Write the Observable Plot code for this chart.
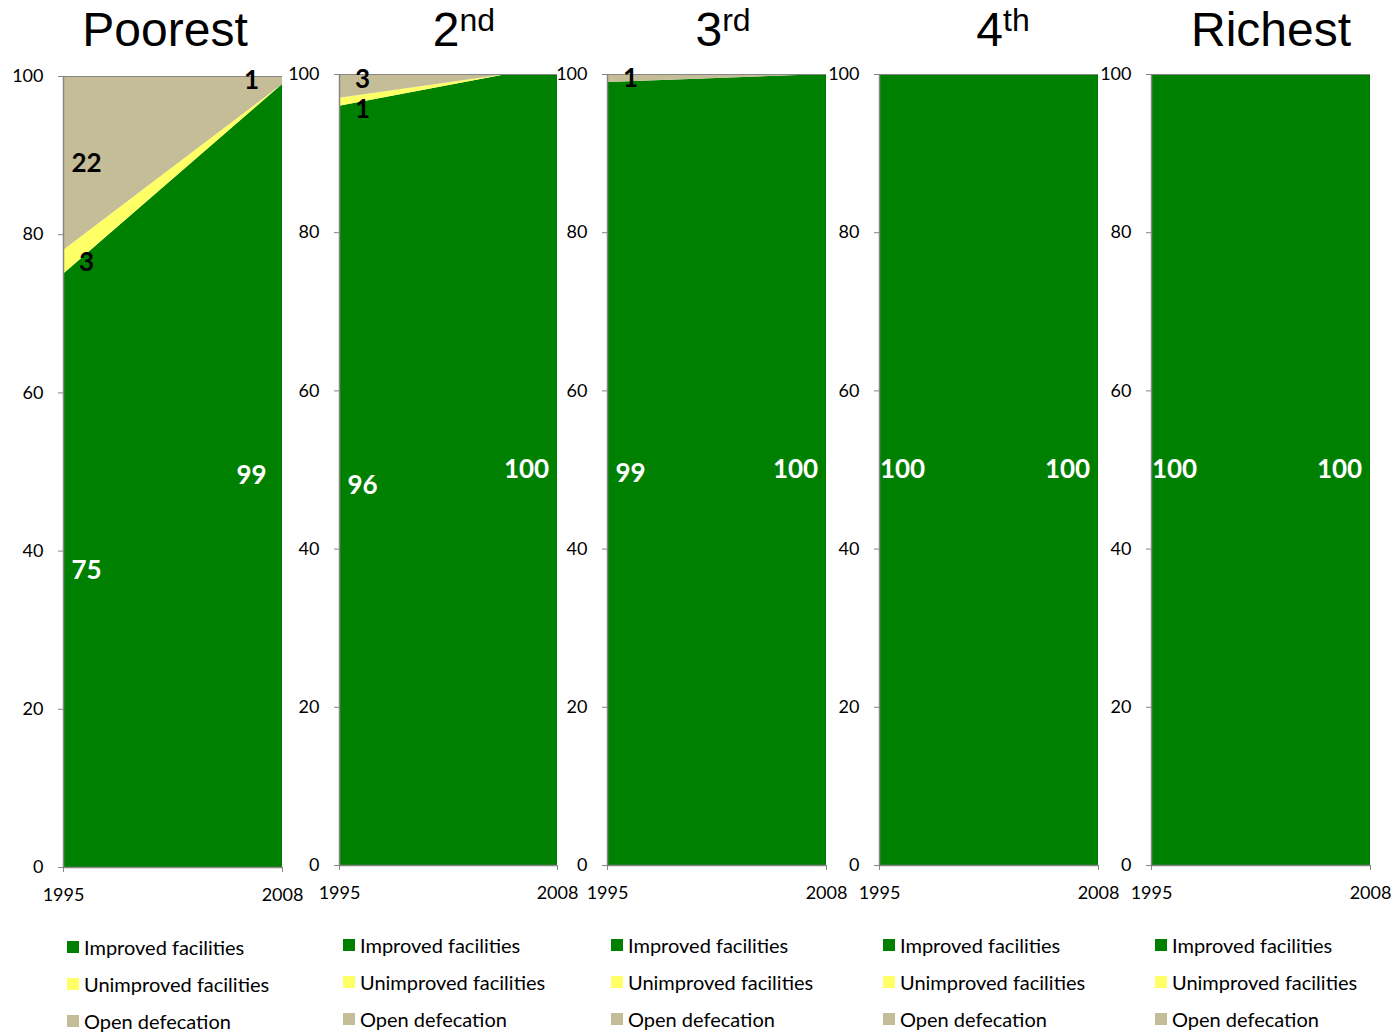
<!DOCTYPE html>
<html>
<head>
<meta charset="utf-8">
<script src="https://cdn.jsdelivr.net/npm/d3@7"></script>
<script src="https://cdn.jsdelivr.net/npm/@observablehq/plot@0.6"></script>
<style>
  body { margin: 0; background: #fff; }
  #chart { position: relative; width: 1396px; height: 1033px; overflow: hidden; font-family: Lato, "Open Sans", sans-serif; }
  .panel { position: absolute; }
  .panel svg { background: transparent !important; max-width: none !important; overflow: visible; }
  .title { position: absolute; top: 6px; font-family: "Liberation Sans", Arial, sans-serif; font-size: 48px; line-height: 48px; white-space: nowrap; transform: translateX(-50%); color: #000; }
  .title .sup { font-size: 32px; position: relative; top: -15px; }
  .legend-item { position: absolute; height: 24px; display: flex; align-items: center; font-size: 20px; color: #000; white-space: nowrap; }
  .legend-item .sw { width: 12px; height: 12px; margin-right: 5px; flex: none; }
</style>
</head>
<body>
<div id="chart"></div>
<script>
// Sanitation coverage by wealth quintile, 1995 vs 2008 (percent of population)
const quintiles = ["Poorest", "2nd", "3rd", "4th", "Richest"];
const titleMain = ["Poorest", "2", "3", "4", "Richest"];
const titleSup = ["", "nd", "rd", "th", ""];
const seriesNames = ["Improved facilities", "Unimproved facilities", "Open defecation"];
const seriesColors = ["#008000", "#ffff66", "#c4bd97"];
const labelColors = ["#ffffff", "#000000", "#000000"];

// Survey years per quintile (the 2nd quintile reaches full coverage before 2008)
const panelYears = [[1995, 2008], [1995, 2005, 2008], [1995, 2008], [1995, 2008], [1995, 2008]];
const improved = [[75, 99], [96, 100, 100], [99, 100], [100, 100], [100, 100]];
const unimproved = [[3, 0], [1, 0, 0], [0, 0], [0, 0], [0, 0]];
const openDefecation = [[22, 1], [3, 0, 0], [1, 0], [0, 0], [0, 0]];

const xTicks = [1995, 2008];
const yTicks = [0, 20, 40, 60, 80, 100];

// Page layout for each small multiple (plot-area edges and title centres in px)
const plotLeft = [63, 339, 607, 879, 1151];
const plotRight = [282, 557, 826, 1098, 1370];
const plotTop = [76, 74, 74, 74, 74];
const plotHeight = 791;
const titleCenter = [165, 464, 723, 1003, 1271];
const margin = {left: 60, right: 24, top: 20, bottom: 40};
const axisGrey = "#868686";
const labelGap = 30; // minimum vertical spacing between value labels, px

const chart = document.getElementById("chart");
const seriesValues = [improved, unimproved, openDefecation];

quintiles.forEach((q, i) => {
  const rows = [];
  panelYears[i].forEach((year, j) => {
    seriesValues.forEach((s, k) => rows.push({quintile: q, year, series: seriesNames[k], k, value: s[i][j]}));
  });
  const firstYear = xTicks[0], lastYear = xTicks[xTicks.length - 1];
  const yMax = yTicks[yTicks.length - 1];
  const pxPerUnit = plotHeight / (yMax - yTicks[0]);

  // Value labels at the middle of each stacked band, spread apart when crowded
  const labelMarks = [];
  for (const [year, dx] of [[firstYear, 23], [lastYear, -31]]) {
    let base = 0;
    const labels = [];
    rows.filter(d => d.year === year).forEach(d => {
      if (d.value > 0) labels.push({...d, mid: base + d.value / 2, dy: 0});
      base += d.value;
    });
    for (let a = 1; a < labels.length; a++) {
      const lo = labels[a - 1], hi = labels[a];
      const gap = (hi.mid - lo.mid) * pxPerUnit + (lo.dy - hi.dy);
      if (gap < labelGap) {
        const push = (labelGap - gap) / 2;
        lo.dy += push;
        hi.dy -= push;
      }
    }
    labels.forEach(d => {
      labelMarks.push(Plot.text([d], {
        x: "year", y: "mid", text: r => String(r.value),
        fill: labelColors[d.k], dx, dy: d.dy,
        fontSize: 26, fontWeight: "bold", fontFamily: "Lato, sans-serif"
      }));
    });
  }

  const innerW = plotRight[i] - plotLeft[i];
  const svg = Plot.plot({
    width: margin.left + innerW + margin.right,
    height: margin.top + plotHeight + margin.bottom,
    marginLeft: margin.left, marginRight: margin.right,
    marginTop: margin.top, marginBottom: margin.bottom,
    x: {domain: [firstYear, lastYear], axis: null},
    y: {domain: [yTicks[0], yMax], axis: null},
    color: {domain: seriesNames, range: seriesColors},
    style: {fontFamily: "Lato, sans-serif", fontSize: "18px", color: "#000", background: "transparent"},
    marks: [
      Plot.areaY(rows, {x: "year", y: "value", z: "series", fill: "series", order: seriesNames, curve: "linear"}),
      Plot.ruleY([yMax], {stroke: axisGrey, strokeWidth: 1.2}),
      Plot.ruleY([yTicks[0]], {stroke: axisGrey, strokeWidth: 1.5}),
      Plot.ruleX([firstYear], {stroke: axisGrey, strokeWidth: 1.5}),
      Plot.axisY({ticks: yTicks, tickSize: 5, tickPadding: 15, stroke: axisGrey, fill: "#000", fontSize: 18, label: null}),
      Plot.axisX({ticks: xTicks, tickSize: 5, tickPadding: 16, tickFormat: "d", stroke: axisGrey, fill: "#000", fontSize: 18, label: null}),
      ...labelMarks
    ]
  });
  const holder = document.createElement("div");
  holder.className = "panel";
  holder.style.left = (plotLeft[i] - margin.left) + "px";
  holder.style.top = (plotTop[i] - margin.top) + "px";
  holder.appendChild(svg);
  chart.appendChild(holder);

  // Panel title with ordinal superscript
  const title = document.createElement("div");
  title.className = "title";
  title.style.left = titleCenter[i] + "px";
  title.textContent = titleMain[i];
  if (titleSup[i]) {
    const sup = document.createElement("span");
    sup.className = "sup";
    sup.textContent = titleSup[i];
    title.appendChild(sup);
  }
  chart.appendChild(title);

  // Legend under each panel
  seriesNames.forEach((name, k) => {
    const item = document.createElement("div");
    item.className = "legend-item";
    item.style.left = (plotLeft[i] + 4) + "px";
    item.style.top = (plotTop[i] + plotHeight + 80 + 37 * k - 12) + "px";
    const sw = document.createElement("span");
    sw.className = "sw";
    sw.style.background = seriesColors[k];
    item.appendChild(sw);
    item.appendChild(document.createTextNode(name));
    chart.appendChild(item);
  });
});
</script>
</body>
</html>
